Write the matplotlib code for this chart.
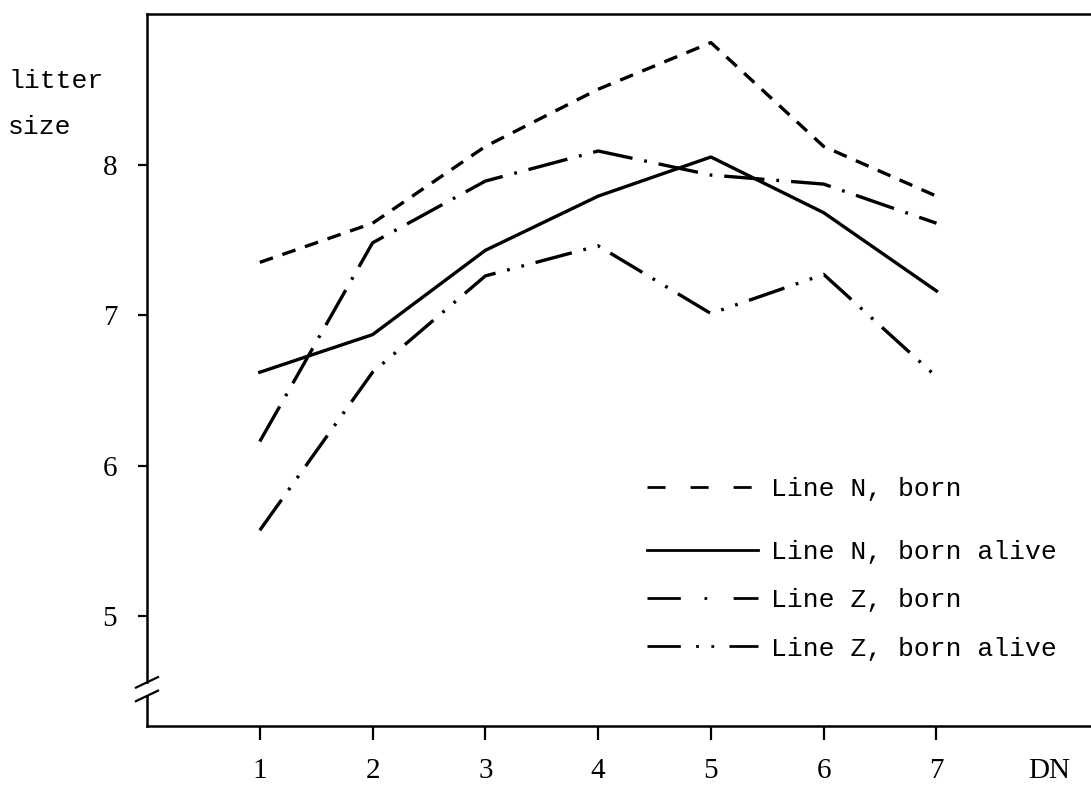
import matplotlib.pyplot as plt
from matplotlib.lines import Line2D
import matplotlib.transforms as mtransforms

# values (litter size per DN)
dn = [1, 2, 3, 4, 5, 6, 7]
n_born = [7.35, 7.61, 8.12, 8.50, 8.81, 8.12, 7.79]
n_born_alive = [6.62, 6.87, 7.43, 7.79, 8.05, 7.68, 7.16]
z_born = [6.16, 7.48, 7.89, 8.09, 7.93, 7.87, 7.61]
z_born_alive = [5.57, 6.62, 7.26, 7.46, 7.01, 7.27, 6.59]

labels = ['Line N, born', 'Line N, born alive', 'Line Z, born', 'Line Z, born alive']
xtick_pos = [1, 2, 3, 4, 5, 6, 7, 8]
xtick_labels = ['1', '2', '3', '4', '5', '6', '7', 'DN']
ytick_pos = [5, 6, 7, 8]

plt.rcParams['lines.scale_dashes'] = False
mono = 'Liberation Mono'
serif = 'Liberation Serif'

fig = plt.figure(figsize=(10.91, 7.85), dpi=100)
ax = fig.add_axes([147 / 1091, 1 - 726 / 785, (1091 - 147) / 1091, (726 - 14) / 785])

styles = [
    (0, (10, 7.2)),
    '-',
    (0, (29, 8.6, 2, 8.6)),
    (0, (27, 8.6, 2, 8.6, 2, 8.6)),
]
series = [n_born, n_born_alive, z_born, z_born_alive]
for vals, ls in zip(series, styles):
    ax.plot(dn, vals, color='black', lw=2.4, linestyle=ls)

ax.set_xlim(0, 8.37)
ax.set_ylim(4.27, 9.0)

ax.set_xticks(xtick_pos)
ax.set_xticklabels(xtick_labels, fontfamily=serif, fontsize=21)
ax.set_yticks(ytick_pos)
ax.set_yticklabels([str(v) for v in ytick_pos], fontfamily=serif, fontsize=21)
ax.tick_params(axis='x', length=10, width=1.6, pad=13, direction='out')
ax.tick_params(axis='y', length=6.5, width=1.6, pad=15, direction='out')
ax.xaxis.get_major_ticks()[-1].tick1line.set_visible(False)

for side in ['top', 'bottom', 'left']:
    ax.spines[side].set_linewidth(1.8)
ax.spines['right'].set_visible(False)

# broken y axis near the bottom
ax.spines['left'].set_bounds(4.56, 9.0)
trans = mtransforms.blended_transform_factory(ax.transAxes, ax.transData)
ax.plot([0, 0], [4.27, 4.47], color='black', lw=1.8, transform=trans, clip_on=False)
dx, dy = 0.0117, 0.035
for yb in [4.56, 4.47]:
    ax.plot([-dx, dx], [yb - dy, yb + dy], color='black', lw=1.6,
            transform=trans, clip_on=False)

fig.text(8 / 1091, 1 - 104 / 785, 'litter\nsize', fontfamily=mono, fontsize=19,
         va='center', ha='left', linespacing=2.15)

legend_styles = [
    (0, (13, 18)),
    '-',
    (0, (24, 17, 2, 19)),
    (0, (24, 11, 2, 9, 2, 11)),
]
handles = [Line2D([], [], color='black', lw=2, linestyle=ls) for ls in legend_styles]

leg_kw = dict(frameon=False, prop={'family': mono, 'size': 19}, handlelength=4.2,
              handletextpad=0.5, borderpad=0, borderaxespad=0, loc='upper left')
leg1 = ax.legend(handles[:1], labels[:1], bbox_to_anchor=(0.53, 0.350), **leg_kw)
ax.add_artist(leg1)
ax.legend(handles[1:], labels[1:], bbox_to_anchor=(0.53, 0.261), labelspacing=0.92, **leg_kw)

plt.savefig('out.png', dpi=100)
